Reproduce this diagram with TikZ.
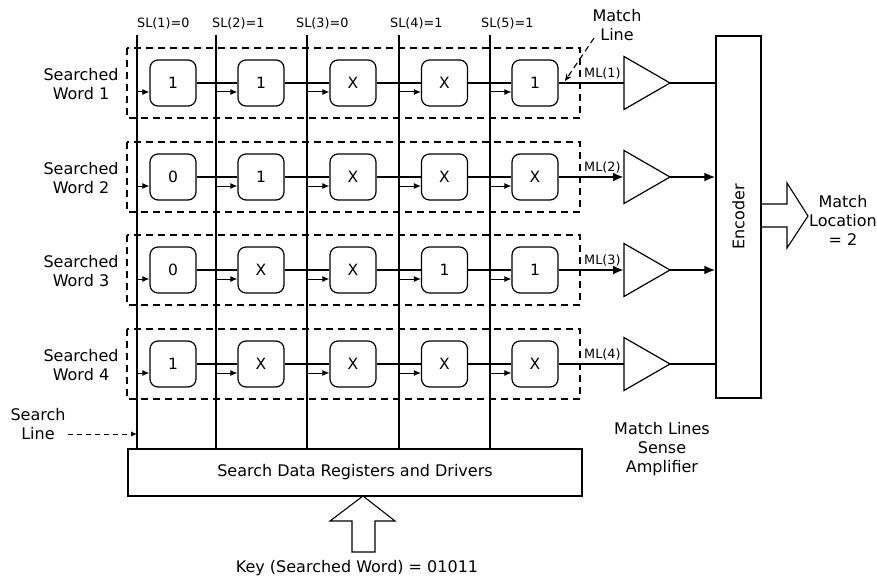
\documentclass[tikz,border=0pt]{standalone}
\usepackage{fontspec}
\setmainfont{DejaVu Sans}
\usetikzlibrary{calc,arrows.meta}
\begin{document}
\begin{tikzpicture}[x=1pt,y=-1pt,
  txt/.style={font=\fontsize{16}{19}\selectfont, align=center, inner sep=0pt},
  small/.style={font=\fontsize{12.8}{15}\selectfont, inner sep=0pt},
  cell/.style={draw, rounded corners=8pt, minimum width=46pt, minimum height=46pt, line width=1.2pt, font=\fontsize{15.5}{18}\selectfont, inner sep=0pt},
  rowbox/.style={draw, dash pattern=on 7pt off 5pt, line width=1.2pt},
  sline/.style={line width=1.8pt},
  sarrow/.style={line width=1pt, -{Latex[length=7pt,width=6pt]}},
  mthin/.style={line width=1.2pt},
  mthick/.style={line width=2.6pt},
  bigtip/.style={-{Latex[length=11pt,width=9pt]}},
  plain/.style={draw, line width=1.2pt}
]
\useasboundingbox[fill=white] (0,0) rectangle (877,580);

% dashed word boxes
\foreach \r/\y in {1/83,2/177,3/270,4/364}{
  \draw[rowbox] (127,\y-35) rectangle (580,\y+35);
}

% register
\node[plain, minimum width=454pt, minimum height=47pt, txt] (reg) at (355,472.5) {Search Data Registers and Drivers};

% search lines
\foreach \i/\x in {1/137,2/216,3/307,4/399,5/490}{
  \coordinate (sl\i) at (\x,35);
  \draw[sline] (sl\i) -- (sl\i |- reg.north);
}
\node[small, anchor=west] (sll1) at (137,23) {SL(1)=0};
\node[small, anchor=west] (sll2) at (212,23) {SL(2)=1};
\node[small, anchor=west] (sll3) at (296,23) {SL(3)=0};
\node[small, anchor=west] (sll4) at (390,23) {SL(4)=1};
\node[small, anchor=west] (sll5) at (481,23) {SL(5)=1};

% cells
\node[cell] (c11) at (173,83) {1};
\node[cell] (c12) at (261,83) {1};
\node[cell] (c13) at (353,83) {X};
\node[cell] (c14) at (444.5,83) {X};
\node[cell] (c15) at (535,83) {1};
\node[cell] (c21) at (173,177) {0};
\node[cell] (c22) at (261,177) {1};
\node[cell] (c23) at (353,177) {X};
\node[cell] (c24) at (444.5,177) {X};
\node[cell] (c25) at (535,177) {X};
\node[cell] (c31) at (173,270) {0};
\node[cell] (c32) at (261,270) {X};
\node[cell] (c33) at (353,270) {X};
\node[cell] (c34) at (444.5,270) {1};
\node[cell] (c35) at (535,270) {1};
\node[cell] (c41) at (173,364) {1};
\node[cell] (c42) at (261,364) {X};
\node[cell] (c43) at (353,364) {X};
\node[cell] (c44) at (444.5,364) {X};
\node[cell] (c45) at (535,364) {X};

% search inputs
\foreach \r in {1,...,4}{
  \foreach \i in {1,...,5}{
    \coordinate (in\r\i) at ($(c\r\i.west)+(0,9)$);
    \draw[sarrow] (in\r\i -| sl\i) -- (in\r\i);
  }
}

% encoder
\node[plain, minimum width=45pt, minimum height=362pt] (enc) at (738.5,217) {};
\node[txt, rotate=90] (enctxt) at (enc.center) {Encoder};

% amplifiers and match lines
\foreach \r/\y/\st in {1/83/mthin,2/177/mthick,3/270/mthick,4/364/mthin}{
  \coordinate (ampin\r) at (624,\y);
  \coordinate (ampout\r) at (670,\y);
  \draw[line width=1.2pt, fill=white] (624,\y-26.5) -- (ampout\r) -- (624,\y+26.5) -- cycle;
  \foreach \i in {1,...,4}{
    \pgfmathtruncatemacro{\j}{\i+1}
    \draw[\st] (c\r\i.east) -- (c\r\j.west);
  }
  \node[small, anchor=south west] (ml\r) at (584,\y-4) {ML(\r)};
}
\draw[mthin] (c15.east) -- (ampin1);
\draw[mthin] (ampout1) -- (ampout1 -| enc.west);
\draw[mthin] (c45.east) -- (ampin4);
\draw[mthin] (ampout4) -- (ampout4 -| enc.west);
\draw[mthick, bigtip] (c25.east) -- (ampin2);
\draw[mthick, bigtip] (ampout2) -- (ampout2 -| enc.west);
\draw[mthick, bigtip] (c35.east) -- (ampin3);
\draw[mthick, bigtip] (ampout3) -- (ampout3 -| enc.west);

% match line annotation
\node[txt] (mlab) at (617,25) {Match\\Line};
\coordinate (mlstart) at (594,38);
\coordinate (mlend) at (565,81);
\draw[line width=1.1pt, dash pattern=on 6pt off 4pt, -{Stealth[length=7pt,width=6pt]}] (mlstart) -- (mlend);

% output arrow
\draw[line width=1.1pt] (761,204) -- (787,204) -- (787,183) -- (808,216) -- (787,248) -- (787,227) -- (761,227);
\node[txt] (loc) at (843,220) {Match\\Location\\= 2};

% labels
\node[txt] (w1) at (81,84) {Searched\\Word 1};
\node[txt] (w2) at (81,178) {Searched\\Word 2};
\node[txt] (w3) at (81,271) {Searched\\Word 3};
\node[txt] (w4) at (81,365) {Searched\\Word 4};

\node[txt] (slab) at (38,424) {Search\\Line};
\coordinate (slstart) at (68,434);
\coordinate (slend) at (137,434);
\draw[line width=1pt, dash pattern=on 5pt off 4pt, -{Latex[length=6pt,width=5pt]}] (slstart) -- (slend);

\node[txt] (sa) at (662,449) {Match Lines\\Sense\\Amplifier};

% key arrow
\draw[line width=1.1pt] (352,552) -- (352,521) -- (330,521) -- (363,496) -- (395,521) -- (375,521) -- (375,552) -- cycle;
\node[txt] (key) at (357,568) {Key (Searched Word) = 01011};
\end{tikzpicture}
\end{document}
